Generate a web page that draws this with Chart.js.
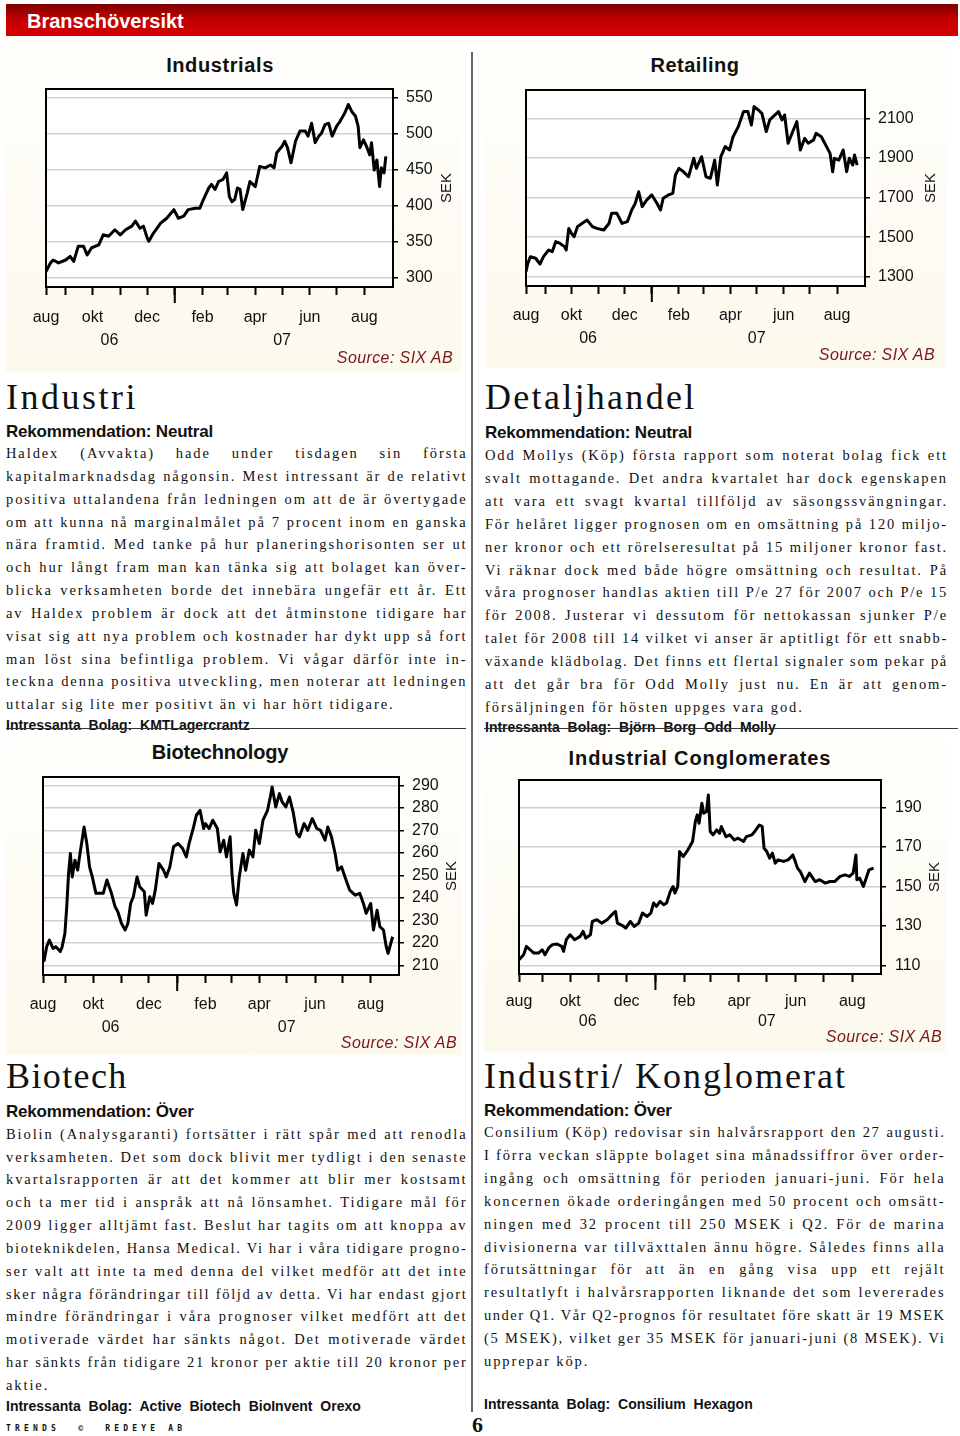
<!DOCTYPE html>
<html>
<head>
<meta charset="utf-8">
<script src="https://cdn.jsdelivr.net/npm/chart.js@4.4.0/dist/chart.umd.min.js"></script>
<style>
  html, body { margin: 0; padding: 0; background: #fff; }
  body { width: 960px; height: 1436px; position: relative; overflow: hidden;
         font-family: 'Liberation Sans', Arial, sans-serif; color: #111; }
  .bar { position: absolute; left: 6px; top: 4px; width: 952px; height: 32px;
         background: linear-gradient(#7c0000, #c00000 45%, #d80000); }
  .bar span { position: absolute; left: 21px; top: 5px; font-weight: bold; font-size: 20px;
              line-height: 24px; color: #fff; }
  .panel { position: absolute; background: linear-gradient(#fffefb, #fcf9ed); }
  .divider { position: absolute; left: 471px; top: 52px; width: 1.5px; height: 1360px; background: #666; }
  .ctitle { position: absolute; width: 320px; text-align: center; font-weight: bold;
            font-size: 20px; line-height: 24px; white-space: nowrap; }
  .src { position: absolute; width: 200px; text-align: right; font-style: italic; font-size: 16px;
         line-height: 20px; color: #7a1518; letter-spacing: 0.4px; white-space: nowrap; }
  canvas { position: absolute; }
  .head { position: absolute; font-family: 'Liberation Serif', 'Times New Roman', serif;
          font-size: 36px; line-height: 36px; white-space: nowrap; }
  .rek { position: absolute; font-weight: bold; font-size: 17px; line-height: 17px;
         letter-spacing: -0.2px; white-space: nowrap; }
  .body { position: absolute; font-family: 'Liberation Serif', 'Times New Roman', serif;
          font-size: 14.5px; line-height: 22.85px; letter-spacing: 1.9px; }
  .body div { white-space: nowrap; text-align: justify; text-align-last: justify; }
  .body div.last { text-align: left; text-align-last: left; }
  .bolag { position: absolute; font-weight: bold; font-size: 14px; line-height: 14px;
           word-spacing: 4px; white-space: nowrap; }
  .rule { position: absolute; height: 1px; background: #333; }
  .foot { position: absolute; left: 6px; top: 1425px; font-family: 'DejaVu Sans Mono', monospace;
          font-weight: bold; font-size: 8px; line-height: 8px; letter-spacing: 4.2px; white-space: pre; }
  .page { position: absolute; left: 472px; top: 1414px; font-family: 'Liberation Serif', serif;
          font-weight: bold; font-size: 22px; line-height: 22px; }
</style>
</head>
<body>
<div class="bar"><span>Branschöversikt</span></div>

<div class="panel" style="left:6px;top:40px;width:456px;height:332px"></div>
<div class="panel" style="left:486px;top:40px;width:460px;height:328px"></div>
<div class="panel" style="left:6px;top:737px;width:456px;height:318px"></div>
<div class="panel" style="left:484px;top:740px;width:462px;height:312px"></div>
<div class="divider"></div>

<div class="ctitle" style="left:60px;top:53px;letter-spacing:0.6px">Industrials</div>
<div class="ctitle" style="left:535px;top:53px;letter-spacing:0.5px">Retailing</div>
<div class="ctitle" style="left:60px;top:740px;letter-spacing:-0.2px">Biotechnology</div>
<div class="ctitle" style="left:540px;top:746px;letter-spacing:0.9px">Industrial Conglomerates</div>

<canvas id="indChart" width="445" height="289" style="left:10px;top:69px"></canvas>
<canvas id="retChart" width="453" height="286" style="left:490px;top:70px"></canvas>
<canvas id="bioChart" width="454" height="288" style="left:7px;top:757px"></canvas>
<canvas id="conChart" width="460" height="281" style="left:483px;top:760px"></canvas>

<div class="src" style="left:253px;top:348px">Source: SIX AB</div>
<div class="src" style="left:735px;top:345px">Source: SIX AB</div>
<div class="src" style="left:257px;top:1033px">Source: SIX AB</div>
<div class="src" style="left:742px;top:1027px">Source: SIX AB</div>

<div class="head" style="left:6px;top:379px;letter-spacing:2.5px">Industri</div>
<div class="rek" style="left:6px;top:423px">Rekommendation: Neutral</div>
<div class="body" style="left:6px;top:442px;width:461.5px">
  <div>Haldex (Avvakta) hade under tisdagen sin första</div>
  <div>kapitalmarknadsdag någonsin. Mest intressant är de relativt</div>
  <div>positiva uttalandena från ledningen om att de är övertygade</div>
  <div>om att kunna nå marginalmålet på 7 procent inom en ganska</div>
  <div>nära framtid. Med tanke på hur planeringshorisonten ser ut</div>
  <div>och hur långt fram man kan tänka sig att bolaget kan över-</div>
  <div>blicka verksamheten borde det innebära ungefär ett år. Ett</div>
  <div>av Haldex problem är dock att det åtminstone tidigare har</div>
  <div>visat sig att nya problem och kostnader har dykt upp så fort</div>
  <div>man löst sina befintliga problem. Vi vågar därför inte in-</div>
  <div>teckna denna positiva utveckling, men noterar att ledningen</div>
  <div class="last">uttalar sig lite mer positivt än vi har hört tidigare.</div>
</div>
<div class="bolag" style="left:6px;top:718px">Intressanta Bolag: KMTLagercrantz</div>
<div class="rule" style="left:6px;top:728px;width:460px"></div>

<div class="head" style="left:485px;top:379px;letter-spacing:2.3px">Detaljhandel</div>
<div class="rek" style="left:485px;top:424px">Rekommendation: Neutral</div>
<div class="body" style="left:485px;top:444.4px;width:463px">
  <div>Odd Mollys (Köp) första rapport som noterat bolag fick ett</div>
  <div>svalt mottagande. Det andra kvartalet har dock egenskapen</div>
  <div>att vara ett svagt kvartal tillföljd av säsongssvängningar.</div>
  <div>För helåret ligger prognosen om en omsättning på 120 miljo-</div>
  <div>ner kronor och ett rörelseresultat på 15 miljoner kronor fast.</div>
  <div>Vi räknar dock med både högre omsättning och resultat. På</div>
  <div>våra prognoser handlas aktien till P/e 27 för 2007 och P/e 15</div>
  <div>för 2008. Justerar vi dessutom för nettokassan sjunker P/e</div>
  <div>talet för 2008 till 14 vilket vi anser är aptitligt för ett snabb-</div>
  <div>växande klädbolag. Det finns ett flertal signaler som pekar på</div>
  <div>att det går bra för Odd Molly just nu. En är att genom-</div>
  <div class="last">försäljningen för hösten uppges vara god.</div>
</div>
<div class="bolag" style="left:485px;top:720px">Intressanta Bolag: Björn Borg Odd Molly</div>
<div class="rule" style="left:484px;top:728px;width:474px"></div>

<div class="head" style="left:6px;top:1058px;letter-spacing:1.4px">Biotech</div>
<div class="rek" style="left:6px;top:1103px">Rekommendation: Över</div>
<div class="body" style="left:6px;top:1122.7px;width:461.5px">
  <div>Biolin (Analysgaranti) fortsätter i rätt spår med att renodla</div>
  <div>verksamheten. Det som dock blivit mer tydligt i den senaste</div>
  <div>kvartalsrapporten är att det kommer att blir mer kostsamt</div>
  <div>och ta mer tid i anspråk att nå lönsamhet. Tidigare mål för</div>
  <div>2009 ligger alltjämt fast. Beslut har tagits om att knoppa av</div>
  <div>bioteknikdelen, Hansa Medical. Vi har i våra tidigare progno-</div>
  <div>ser valt att inte ta med denna del vilket medför att det inte</div>
  <div>sker några förändringar till följd av detta. Vi har endast gjort</div>
  <div>mindre förändringar i våra prognoser vilket medfört att det</div>
  <div>motiverade värdet har sänkts något. Det motiverade värdet</div>
  <div>har sänkts från tidigare 21 kronor per aktie till 20 kronor per</div>
  <div class="last">aktie.</div>
</div>
<div class="bolag" style="left:6px;top:1398.5px">Intressanta Bolag: Active Biotech BioInvent Orexo</div>

<div class="head" style="left:484px;top:1058px;letter-spacing:2px">Industri/ Konglomerat</div>
<div class="rek" style="left:484px;top:1102px">Rekommendation: Över</div>
<div class="body" style="left:484px;top:1121.4px;width:461.5px">
  <div>Consilium (Köp) redovisar sin halvårsrapport den 27 augusti.</div>
  <div>I förra veckan släppte bolaget sina månadssiffror över order-</div>
  <div>ingång och omsättning för perioden januari-juni. För hela</div>
  <div>koncernen ökade orderingången med 50 procent och omsätt-</div>
  <div>ningen med 32 procent till 250 MSEK i Q2. För de marina</div>
  <div>divisionerna var tillväxttalen ännu högre. Således finns alla</div>
  <div>förutsättningar för att än en gång visa upp ett rejält</div>
  <div>resultatlyft i halvårsrapporten liknande det som levererades</div>
  <div>under Q1. Vår Q2-prognos för resultatet före skatt är 19 MSEK</div>
  <div>(5 MSEK), vilket ger 35 MSEK för januari-juni (8 MSEK). Vi</div>
  <div class="last">upprepar köp.</div>
</div>
<div class="bolag" style="left:484px;top:1397px">Intressanta Bolag: Consilium Hexagon</div>

<div class="foot">TRENDS  ©  REDEYE AB</div>
<div class="page">6</div>

<script>
// day numbers count from 1 Aug 2006, values are closing prices in SEK
const indDays = [9, 14, 17, 23, 31, 36, 40, 45, 51, 55, 60, 68, 73, 79, 86, 92, 98, 105, 109, 114,
  118, 122, 124, 129, 137, 144, 152, 157, 163, 168, 176, 181, 185, 191, 194, 198, 202, 207, 211, 214,
  217, 220, 223, 226, 229, 234, 237, 243, 248, 254, 260, 264, 267, 273, 276, 279, 283, 288, 293, 299,
  302, 306, 310, 314, 317, 321, 325, 329, 334, 338, 343, 347, 351, 355, 358, 360, 364, 368, 371, 373,
  376, 379, 382, 384, 387, 389];
const indValues = [309, 321, 325, 321, 325, 330, 323, 344, 344, 332, 342, 346, 360, 358, 367, 360, 367, 372, 379, 369,
  372, 356, 351, 362, 376, 383, 395, 383, 386, 395, 397, 397, 409, 425, 430, 423, 434, 437, 446, 413,
  406, 409, 425, 423, 395, 418, 434, 427, 455, 453, 457, 453, 474, 483, 490, 481, 460, 490, 504, 504,
  497, 515, 488, 497, 501, 513, 515, 497, 511, 518, 529, 541, 531, 525, 511, 481, 492, 481, 471, 488,
  450, 464, 427, 453, 446, 469];

const retDays = [9, 11, 14, 20, 25, 29, 35, 39, 43, 48, 53, 55, 58, 61, 64, 68, 73, 79, 85, 90,
  98, 104, 107, 113, 119, 125, 130, 134, 138, 142, 147, 153, 159, 163, 166, 172, 177, 180, 184, 189,
  195, 201, 204, 210, 215, 220, 225, 228, 232, 237, 242, 246, 252, 258, 263, 267, 270, 275, 279, 284,
  288, 294, 298, 302, 305, 309, 315, 319, 323, 328, 332, 338, 341, 347, 353, 357, 360, 362, 367, 372,
  376, 379, 383, 385, 388];
const retValues = [1325, 1367, 1401, 1393, 1364, 1401, 1435, 1426, 1477, 1468, 1452, 1435, 1544, 1519, 1502, 1553, 1569, 1586, 1553, 1544,
  1536, 1569, 1620, 1620, 1569, 1578, 1637, 1670, 1729, 1654, 1687, 1713, 1670, 1637, 1696, 1713, 1721, 1814, 1847, 1831,
  1805, 1898, 1847, 1906, 1805, 1797, 1889, 1763, 1906, 1957, 1940, 2007, 2058, 2134, 2134, 2066, 2159, 2142, 2125, 2033,
  2092, 2117, 2134, 2092, 2117, 1974, 2041, 2083, 1940, 1999, 1974, 1990, 2024, 2007, 1957, 1923, 1830, 1898, 1889, 1940,
  1830, 1898, 1864, 1915, 1864];

const bioDays = [7, 10, 13, 17, 20, 25, 27, 30, 32, 34, 36, 38, 41, 44, 46, 51, 54, 57, 60, 64,
  68, 72, 76, 81, 85, 88, 92, 96, 99, 102, 105, 109, 112, 117, 119, 123, 126, 129, 133, 138,
  141, 145, 149, 154, 159, 163, 166, 171, 174, 178, 182, 184, 188, 192, 197, 200, 204, 207, 211, 213,
  215, 218, 221, 225, 228, 232, 236, 239, 243, 247, 252, 255, 257, 261, 265, 268, 272, 276, 280, 284,
  287, 292, 296, 301, 306, 310, 315, 318, 322, 326, 329, 333, 338, 342, 348, 353, 357, 360, 365, 368,
  372, 375, 379, 382, 384, 389];
const bioValues = [211.6, 218.3, 221.2, 217.5, 218.3, 216.1, 218.3, 224.2, 236.0, 250.8, 259.7, 249.3, 256.7, 252.3, 258.2, 271.5, 264.1, 253.8, 249.3, 242.0,
  242.0, 242.0, 247.9, 242.0, 236.0, 233.8, 228.6, 225.7, 228.6, 237.5, 240.5, 249.3, 244.9, 242.7, 232.3, 240.5, 237.5, 243.4, 255.3, 252.3,
  249.3, 253.8, 262.7, 264.1, 261.9, 258.2, 264.1, 271.5, 276.7, 278.9, 270.8, 273.0, 270.8, 274.5, 270.8, 260.4, 265.6, 258.2, 267.1, 250.8,
  242.0, 236.8, 249.3, 259.7, 252.3, 261.2, 258.2, 270.0, 264.1, 274.5, 278.9, 284.8, 289.3, 280.4, 286.3, 282.6, 280.4, 284.8, 278.2, 268.6,
  267.1, 273.0, 270.0, 275.2, 270.8, 270.0, 265.6, 271.5, 267.1, 259.7, 252.3, 253.8, 247.9, 243.4, 241.2, 242.0, 237.5, 233.1, 237.5, 225.7,
  234.5, 227.2, 225.7, 218.3, 215.3, 222.7];

const conDays = [6, 11, 14, 18, 22, 27, 31, 34, 38, 42, 47, 52, 54, 57, 61, 66, 72, 75, 78, 83,
  85, 90, 95, 101, 106, 110, 112, 117, 121, 126, 130, 135, 139, 144, 148, 151, 154, 158, 162, 165,
  169, 172, 174, 177, 179, 183, 188, 193, 196, 198, 200, 203, 205, 208, 210, 212, 215, 219, 222, 224,
  229, 233, 238, 242, 248, 251, 257, 260, 265, 268, 270, 273, 276, 279, 282, 285, 291, 296, 301, 303,
  306, 309, 314, 319, 325, 330, 336, 341, 346, 352, 357, 362, 366, 369, 370, 373, 377, 380, 383, 388];
const conValues = [112.9, 115.4, 119.6, 117.9, 116.2, 116.2, 117.9, 115.4, 118.8, 120.5, 120.8, 119.6, 117.1, 123.0, 125.5, 123.0, 124.7, 127.2, 123.8, 125.5,
  132.3, 133.1, 131.4, 133.1, 135.7, 137.3, 131.4, 130.3, 128.9, 132.3, 129.7, 131.4, 136.5, 134.8, 136.5, 141.6, 139.9, 142.4, 140.7, 141.6,
  147.5, 150.0, 146.6, 150.0, 167.7, 165.2, 168.6, 172.8, 182.9, 186.3, 182.1, 192.2, 187.1, 188.0, 196.4, 177.9, 176.2, 178.7, 177.0, 180.4,
  175.3, 176.2, 173.6, 174.5, 172.8, 175.3, 176.2, 177.9, 181.2, 180.4, 169.4, 167.7, 164.4, 166.9, 161.8, 163.5, 162.7, 163.5, 166.0, 163.5,
  159.3, 157.6, 152.5, 156.8, 152.5, 153.4, 151.7, 152.5, 152.5, 155.1, 155.9, 155.1, 156.8, 166.0, 153.4, 154.2, 150.0, 154.2, 158.4, 159.3];

// time axis: month starts, labels on every other month, years underneath
const monthStarts = [31, 61, 92, 122, 153, 184, 212, 243, 273, 304, 334, 365];
const monthLabels = ['', 'okt', '', 'dec', '', 'feb', '', 'apr', '', 'jun', '', 'aug'];
const startLabel = 'aug';
const yearTicks = [80, 273];
const yearLabels = ['06', '07'];
const newYearDay = 153;

// price axes
const indTicks = [300, 350, 400, 450, 500, 550];
const retTicks = [1300, 1500, 1700, 1900, 2100];
const bioTicks = [210, 220, 230, 240, 250, 260, 270, 280, 290];
const conTicks = [110, 130, 150, 170, 190];

// justified lines: shrink the tracking a little where a line would not fit
document.querySelectorAll('.body div').forEach(line => {
    let ls = 1.9;
    while (line.scrollWidth > line.clientWidth && ls > 0.6) {
        ls -= 0.1;
        line.style.letterSpacing = ls.toFixed(1) + 'px';
    }
});

Chart.defaults.font.family = "'Liberation Sans', Arial, sans-serif";
Chart.defaults.color = '#111';

// white plot area, black frame, long year tick and the SEK unit label
const framePlugin = {
    id: 'frame',
    beforeDraw(chart) {
        const a = chart.chartArea;
        const ctx = chart.ctx;
        ctx.save();
        ctx.fillStyle = '#fff';
        ctx.fillRect(a.left, a.top, a.right - a.left, a.bottom - a.top);
        ctx.restore();
    },
    afterDraw(chart, args, opts) {
        const a = chart.chartArea;
        const ctx = chart.ctx;
        ctx.save();
        ctx.strokeStyle = '#000';
        ctx.lineWidth = 2;
        ctx.strokeRect(a.left, a.top, a.right - a.left, a.bottom - a.top);

        const xj = chart.scales.x.getPixelForValue(newYearDay);
        ctx.beginPath();
        ctx.moveTo(xj, a.bottom);
        ctx.lineTo(xj, a.bottom + 16);
        ctx.stroke();

        ctx.translate(a.right + opts.unitOffset, (a.top + a.bottom) / 2);
        ctx.rotate(-Math.PI / 2);
        ctx.fillStyle = '#111';
        ctx.font = "15px 'Liberation Sans', Arial, sans-serif";
        ctx.textAlign = 'center';
        ctx.textBaseline = 'middle';
        ctx.fillText('SEK', 0, 0);
        ctx.restore();
    }
};

function drawStock(id, days, values, o) {
    const points = days.map((d, i) => ({ x: d, y: values[i] }));
    return new Chart(document.getElementById(id), {
        type: 'line',
        data: {
            datasets: [{
                data: points,
                borderColor: '#000',
                borderWidth: 3,
                borderJoinStyle: 'round',
                pointRadius: 0,
                tension: 0,
                fill: false
            }]
        },
        options: {
            responsive: false,
            animation: false,
            layout: { padding: { left: 36, top: 20, right: 0, bottom: 0 } },
            plugins: {
                legend: { display: false },
                tooltip: { enabled: false },
                frame: { unitOffset: o.unitOffset }
            },
            scales: {
                x: {
                    type: 'linear',
                    position: 'bottom',
                    min: o.xMin,
                    max: o.xMax,
                    afterBuildTicks: s => { s.ticks = [o.xMin].concat(monthStarts).map(v => ({ value: v })); },
                    afterFit: s => { s.height = o.monthHeight; },
                    ticks: {
                        autoSkip: false,
                        maxRotation: 0,
                        padding: o.monthPad,
                        font: { size: 16 },
                        callback: v => v === o.xMin ? startLabel : monthLabels[monthStarts.indexOf(v)]
                    },
                    grid: { drawOnChartArea: false, tickLength: 8, tickWidth: 2, tickColor: '#000' },
                    border: { display: false }
                },
                years: {
                    type: 'linear',
                    position: 'bottom',
                    min: o.xMin,
                    max: o.xMax,
                    afterBuildTicks: s => { s.ticks = yearTicks.map(v => ({ value: v })); },
                    afterFit: s => { s.height = 30; },
                    ticks: {
                        autoSkip: false,
                        maxRotation: 0,
                        padding: o.yearPad,
                        font: { size: 16 },
                        callback: v => yearLabels[yearTicks.indexOf(v)]
                    },
                    grid: { display: false, drawTicks: false },
                    border: { display: false }
                },
                y: {
                    position: 'right',
                    min: o.yMin,
                    max: o.yMax,
                    afterBuildTicks: s => { s.ticks = o.ticks.map(v => ({ value: v })); },
                    afterFit: s => { s.width = o.yWidth; },
                    ticks: { padding: o.labelPad, font: { size: 16 }, callback: v => String(v) },
                    grid: { color: '#cfcfcf', lineWidth: 1.5, tickLength: 5, tickWidth: 1.5, tickColor: '#000' },
                    border: { display: false }
                }
            }
        },
        plugins: [framePlugin]
    });
}

drawStock('indChart', indDays, indValues, {
    xMin: 9, xMax: 397, yMin: 287.5, yMax: 562.5, ticks: indTicks,
    yWidth: 62, labelPad: 8, unitOffset: 54, monthPad: 13.4, monthHeight: 41, yearPad: 3.4
});
drawStock('retChart', retDays, retValues, {
    xMin: 9, xMax: 397, yMin: 1253, yMax: 2243, ticks: retTicks,
    yWidth: 78, labelPad: 8, unitOffset: 66, monthPad: 12.4, monthHeight: 40, yearPad: 2.7
});
drawStock('bioChart', bioDays, bioValues, {
    xMin: 6, xMax: 396, yMin: 205.7, yMax: 293.7, ticks: bioTicks,
    yWidth: 62, labelPad: 8, unitOffset: 53, monthPad: 12.4, monthHeight: 40, yearPad: 2.7
});
drawStock('conChart', conDays, conValues, {
    xMin: 6, xMax: 396, yMin: 105.6, yMax: 204, ticks: conTicks,
    yWidth: 62, labelPad: 9, unitOffset: 54, monthPad: 9.8, monthHeight: 37, yearPad: 0.8
});
</script>
</body>
</html>
